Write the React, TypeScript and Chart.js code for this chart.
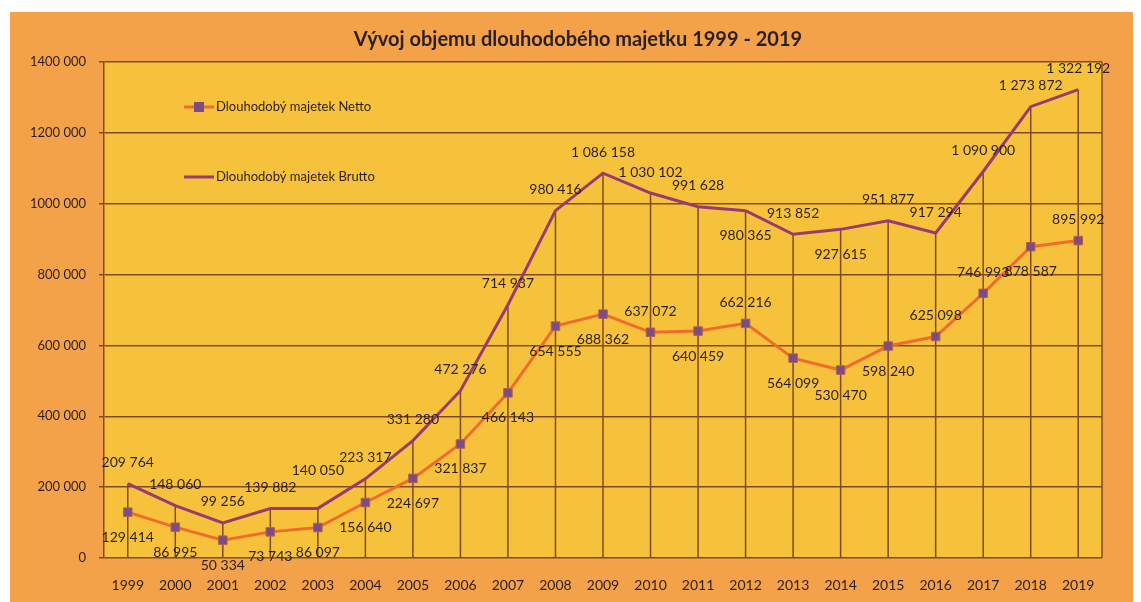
import React, { useEffect, useRef } from "react";
import { Chart, registerables } from "chart.js";

Chart.register(...registerables);

const years = ["1999","2000","2001","2002","2003","2004","2005","2006","2007","2008","2009","2010","2011","2012","2013","2014","2015","2016","2017","2018","2019"];
const netto = [129414, 86995, 50334, 73743, 86097, 156640, 224697, 321837, 466143, 654555, 688362, 637072, 640459, 662216, 564099, 530470, 598240, 625098, 746993, 878587, 895992];
const brutto = [209764, 148060, 99256, 139882, 140050, 223317, 331280, 472276, 714937, 980416, 1086158, 1030102, 991628, 980365, 913852, 927615, 951877, 917294, 1090900, 1273872, 1322192];
const yTickLabels = ["0", "200 000", "400 000", "600 000", "800 000", "1000 000", "1200 000", "1400 000"];
const seriesNames = ["Dlouhodobý majetek Netto", "Dlouhodobý majetek Brutto"];
const titleText = "Vývoj objemu dlouhodobého majetku 1999 - 2019";

// label placement: 1 = above point, 2 = well above, -1 = below point
const nettoLabelSide = [-1,-1,-1,-1,-1,-1,-1,-1,-1,-1,-1,1,-1,1,-1,-1,-1,1,1,-1,1];
const bruttoLabelSide = [1,1,1,1,2,1,1,1,1,1,1,1,1,-1,1,-1,1,1,1,1,1];

const fmt = (v: number) => String(v).replace(/\B(?=(\d{3})+(?!\d))/g, " ");

const FONT = "Lato, 'Open Sans', sans-serif";
const TEXT = "#2a1f26";
const GRID = "#7e4a2a";
const BRUTTO = "#9a3a72";
const NETTO = "#ef6c2c";
const MARKER = "#7c4c86";

const decorPlugin = {
  id: "decor",
  beforeDraw(chart: any) {
    const { ctx, width, height, chartArea } = chart;
    ctx.save();
    ctx.fillStyle = "#ffffff";
    ctx.fillRect(0, 0, width, height);
    ctx.fillStyle = "#f4a24a";
    ctx.fillRect(2, 4, width - 2, height - 4);
    ctx.fillStyle = "#f6c23c";
    ctx.fillRect(chartArea.left, chartArea.top, chartArea.right - chartArea.left, chartArea.bottom - chartArea.top);
    ctx.restore();
  },
  beforeDatasetsDraw(chart: any) {
    const { ctx, chartArea } = chart;
    const meta = chart.getDatasetMeta(1);
    ctx.save();
    ctx.strokeStyle = GRID;
    ctx.lineWidth = 1.5;
    meta.data.forEach((p: any) => {
      ctx.beginPath();
      ctx.moveTo(p.x, p.y);
      ctx.lineTo(p.x, chartArea.bottom);
      ctx.stroke();
    });
    ctx.beginPath();
    ctx.moveTo(chartArea.right, chartArea.top);
    ctx.lineTo(chartArea.right, chartArea.bottom);
    ctx.stroke();
    ctx.restore();
  },
  afterDraw(chart: any) {
    const { ctx, chartArea } = chart;
    ctx.save();
    ctx.fillStyle = TEXT;
    ctx.font = `bold 20px ${FONT}`;
    ctx.textAlign = "center";
    ctx.textBaseline = "middle";
    ctx.fillText(titleText, 570, 32);
    ctx.font = `14px ${FONT}`;
    const drawLabels = (idx: number, vals: number[], sides: number[]) => {
      const meta = chart.getDatasetMeta(idx);
      meta.data.forEach((p: any, i: number) => {
        const dy = sides[i] === 2 ? -38 : sides[i] > 0 ? -21 : 25;
        ctx.fillText(fmt(vals[i]), p.x, p.y + dy);
      });
    };
    drawLabels(1, brutto, bruttoLabelSide);
    drawLabels(0, netto, nettoLabelSide);
    ctx.textAlign = "left";
    ctx.font = `13px ${FONT}`;
    const lx = chartArea.left + 80;
    const ly1 = chartArea.top + 45;
    const ly2 = chartArea.top + 115;
    ctx.lineWidth = 3;
    ctx.strokeStyle = NETTO;
    ctx.beginPath();
    ctx.moveTo(lx, ly1);
    ctx.lineTo(lx + 30, ly1);
    ctx.stroke();
    ctx.fillStyle = MARKER;
    ctx.fillRect(lx + 10, ly1 - 5, 10, 10);
    ctx.strokeStyle = BRUTTO;
    ctx.beginPath();
    ctx.moveTo(lx, ly2);
    ctx.lineTo(lx + 30, ly2);
    ctx.stroke();
    ctx.fillStyle = TEXT;
    ctx.fillText(seriesNames[0], lx + 32, ly1);
    ctx.fillText(seriesNames[1], lx + 32, ly2);
    ctx.restore();
  },
};

export default function App() {
  const ref = useRef<HTMLCanvasElement | null>(null);
  useEffect(() => {
    if (!ref.current) return;
    const chart = new Chart(ref.current, {
      type: "line",
      data: {
        labels: years,
        datasets: [
          {
            label: seriesNames[0],
            data: netto,
            borderColor: NETTO,
            borderWidth: 3,
            pointStyle: "rect",
            pointRadius: 6,
            pointBackgroundColor: MARKER,
            pointBorderColor: "#b06050",
            pointBorderWidth: 1,
            tension: 0,
          },
          {
            label: seriesNames[1],
            data: brutto,
            borderColor: BRUTTO,
            borderWidth: 3,
            pointRadius: 0,
            tension: 0,
          },
        ],
      },
      options: {
        animation: false,
        responsive: false,
        layout: { padding: { left: 0, top: 54, right: 39, bottom: 0 } },
        plugins: { legend: { display: false }, title: { display: false }, tooltip: { enabled: false } },
        scales: {
          x: {
            offset: true,
            grid: { display: false },
            border: { display: false },
            ticks: { color: TEXT, font: { family: FONT, size: 14 }, padding: 11, maxRotation: 0, autoSkip: false },
            afterFit: (s: any) => { s.height = 44; },
          },
          y: {
            min: 0,
            max: 1400000,
            grid: { color: GRID, lineWidth: 1.5, tickLength: 5 },
            border: { display: true, color: GRID, width: 1.5 },
            ticks: {
              stepSize: 200000,
              color: TEXT,
              font: { family: FONT, size: 13 },
              padding: 13,
              callback: (_v: any, i: number) => yTickLabels[i],
            },
            afterFit: (s: any) => { s.width = 96; },
          },
        },
      },
      plugins: [decorPlugin],
    });
    return () => chart.destroy();
  }, []);
  return <canvas ref={ref} width={1133} height={594} style={{ display: "block" }} />;
}
